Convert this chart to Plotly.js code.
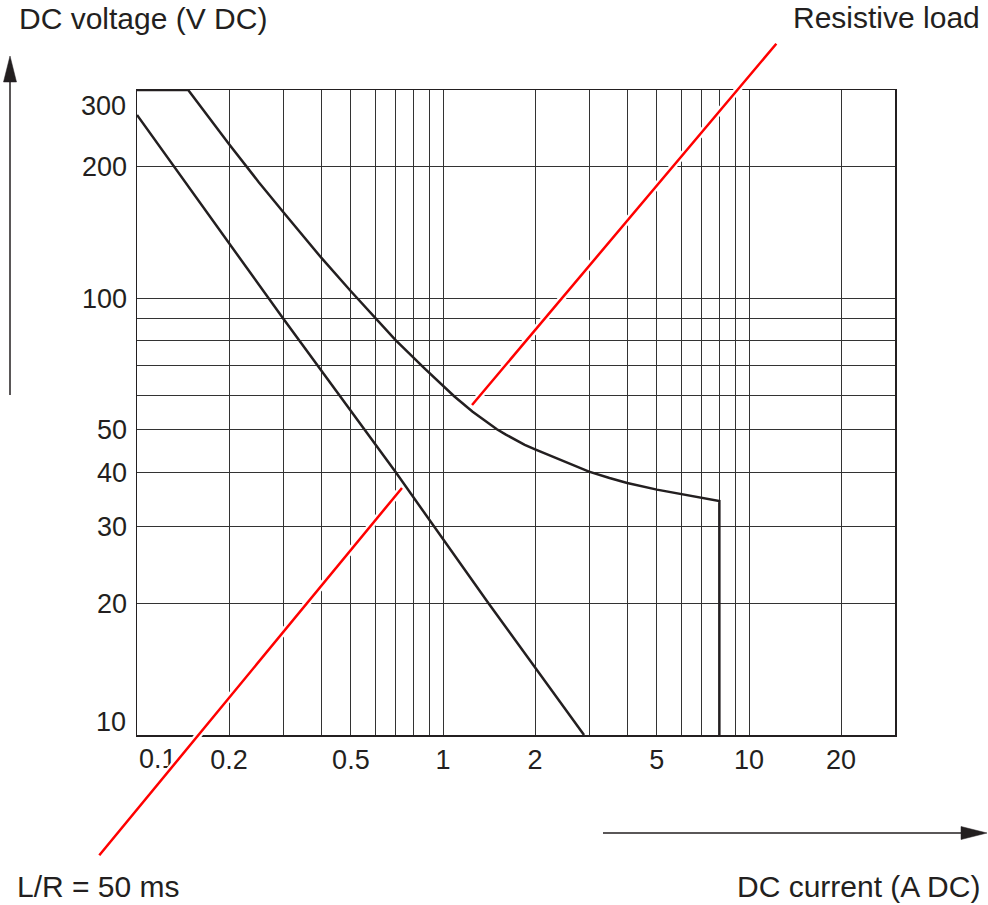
<!DOCTYPE html>
<html>
<head>
<meta charset="utf-8">
<script src="https://cdn.plot.ly/plotly-3.0.1.min.js"></script>
<style>html,body{margin:0;padding:0;background:#fff;}#chart{width:988px;height:905px;}</style>
</head>
<body>
<div id="chart"></div>
<script>
// ---- data ----
const resistiveI = [0.1, 0.147, 0.2, 0.25, 0.3, 0.4, 0.5, 0.6, 0.7, 0.87, 1.09, 1.25, 1.37, 1.5, 1.6, 1.72, 1.85, 2, 2.47, 3, 3.5, 4, 5, 6, 7, 8, 8];
const resistiveV = [300, 300, 225.4, 184.5, 157.9, 123.9, 103.8, 90.0, 80.2, 69.1, 59.6, 55.0, 52.4, 50.15, 48.8, 47.45, 46.2, 45.1, 42.4, 40.1, 38.77, 37.78, 36.47, 35.58, 34.89, 34.35, 10];
const inductiveI = [0.1, 0.2, 0.3, 0.7, 1.41, 2.89];
const inductiveV = [263, 134, 90, 40, 20, 10];

const xGridVals = [0.2,0.3,0.4,0.5,0.6,0.7,0.8,0.9,1,2,3,4,5,6,7,8,9,10,20];
const xLabelVals = [0.2, 0.5, 1, 2, 5, 10, 20];
const xLabelText = ['0.2','0.5','1','2','5','10','20'];
const yGridVals = [20,30,40,50,60,70,80,90,100,200];
const yLabelVals = [20, 30, 40, 50, 100, 200];
const yLabelText = ['20','30','40','50','100','200'];
const xEdgeLabel = {val: 0.1, text: '0.1'};
const yEdgeLabels = [{val: 10, text: '10'}, {val: 300, text: '300'}];

const xRange = [0.1, 30];
const yRange = [10, 300];

// leader lines (data coordinates of the two ends)
const resLeaderI = [1.244, 12.4];
const resLeaderV = [57.0, 386];
const lrLeaderI = [0.7345, 0.0746];
const lrLeaderV = [36.8, 5.26];

const labelResistive = 'Resistive load';
const labelLR = 'L/R = 50 ms';
const labelX = 'DC current (A DC)';
const labelY = 'DC voltage (V DC)';

// ---- layout helpers ----
const W = 988, H = 905;
const M = {l: 137, r: 93, t: 90, b: 170};
const PW = W - M.l - M.r, PH = H - M.t - M.b;
const xp = px => (px - M.l) / PW;
const yp = py => (H - M.b - py) / PH;
const FONT = 'Liberation Sans, Arial, Helvetica, sans-serif';
const INK = '#231f20';
const TICK = 27, TXT = 30;
const L = Math.log10;

const tickTextX = xGridVals.map(v => { const i = xLabelVals.indexOf(v); return i >= 0 ? xLabelText[i] : ''; });
const tickTextY = yGridVals.map(v => { const i = yLabelVals.indexOf(v); return i >= 0 ? yLabelText[i] : ''; });

const traces = [
  {x: inductiveI, y: inductiveV, mode: 'lines', line: {color: INK, width: 2.5}, hoverinfo: 'skip', showlegend: false},
  {x: resistiveI, y: resistiveV, mode: 'lines', line: {color: INK, width: 2.5}, hoverinfo: 'skip', showlegend: false}
];

function leader(xs, ys, color, width) {
  return {x: L(xs[0]), y: L(ys[0]), xref: 'x', yref: 'y', ax: L(xs[1]), ay: L(ys[1]), axref: 'x', ayref: 'y',
          text: '', showarrow: true, arrowhead: 0, arrowwidth: width, arrowcolor: color, standoff: 0, startstandoff: 0};
}

const annotations = [
  {text: xEdgeLabel.text, x: L(xEdgeLabel.val), xref: 'x', xanchor: 'left', y: 0, yref: 'paper', yanchor: 'top', yshift: -7,
   showarrow: false, font: {family: FONT, size: TICK, color: INK}},
  {text: yEdgeLabels[0].text, x: 0, xref: 'paper', xanchor: 'right', xshift: -9, y: L(yEdgeLabels[0].val), yref: 'y', yanchor: 'middle', yshift: 13,
   showarrow: false, font: {family: FONT, size: TICK, color: INK}},
  {text: yEdgeLabels[1].text, x: 0, xref: 'paper', xanchor: 'right', xshift: -9, y: L(yEdgeLabels[1].val), yref: 'y', yanchor: 'middle', yshift: -16,
   showarrow: false, font: {family: FONT, size: TICK, color: INK}},
  leader(resLeaderI, resLeaderV, '#ffffff', 7),
  leader(lrLeaderI, lrLeaderV, '#ffffff', 7),
  leader(resLeaderI, resLeaderV, '#ff0000', 2.5),
  leader(lrLeaderI, lrLeaderV, '#ff0000', 2.5),
  {text: labelResistive, x: xp(982), xref: 'paper', xanchor: 'right', y: yp(18), yref: 'paper', yanchor: 'middle',
   showarrow: false, font: {family: FONT, size: TXT, color: INK}},
  {text: labelLR, x: xp(15), xref: 'paper', xanchor: 'left', y: yp(886), yref: 'paper', yanchor: 'middle',
   showarrow: false, font: {family: FONT, size: TXT, color: INK}},
  {text: labelX, x: xp(982), xref: 'paper', xanchor: 'right', y: yp(887), yref: 'paper', yanchor: 'middle',
   showarrow: false, font: {family: FONT, size: TXT, color: INK}}
];

const shapes = [
  {type: 'line', xref: 'paper', yref: 'paper', x0: xp(10), x1: xp(10), y0: yp(395), y1: yp(78), line: {color: INK, width: 1.5}},
  {type: 'path', xref: 'paper', yref: 'paper', path: `M ${xp(3.5)},${yp(82)} L ${xp(10)},${yp(56)} L ${xp(16.5)},${yp(82)} Z`,
   fillcolor: INK, line: {color: INK, width: 0.5}},
  {type: 'line', xref: 'paper', yref: 'paper', x0: xp(603), x1: xp(965), y0: yp(833), y1: yp(833), line: {color: INK, width: 1.5}},
  {type: 'path', xref: 'paper', yref: 'paper', path: `M ${xp(961)},${yp(826.5)} L ${xp(987)},${yp(833)} L ${xp(961)},${yp(839.5)} Z`,
   fillcolor: INK, line: {color: INK, width: 0.5}}
];

const layout = {
  width: W, height: H,
  margin: M,
  paper_bgcolor: '#ffffff', plot_bgcolor: '#ffffff',
  font: {family: FONT, color: INK},
  title: {text: labelY, x: 19 / W, xref: 'container', xanchor: 'left', y: 1 - 18 / H, yref: 'container', yanchor: 'middle',
          font: {family: FONT, size: TXT, color: INK}},
  xaxis: {type: 'log', range: xRange.map(L), tickmode: 'array', tickvals: xGridVals, ticktext: tickTextX,
          showgrid: true, gridcolor: '#333333', gridwidth: 1, ticks: '', showline: true, linecolor: INK, linewidth: 1.5, mirror: true,
          tickfont: {family: FONT, size: TICK, color: INK}, fixedrange: true},
  yaxis: {type: 'log', range: yRange.map(L), tickmode: 'array', tickvals: yGridVals, ticktext: tickTextY,
          showgrid: true, gridcolor: '#333333', gridwidth: 1, ticks: '', showline: true, linecolor: INK, linewidth: 1.5, mirror: true,
          ticklabelstandoff: 3,
          tickfont: {family: FONT, size: TICK, color: INK}, fixedrange: true},
  annotations: annotations,
  shapes: shapes,
  showlegend: false
};

Plotly.newPlot('chart', traces, layout, {staticPlot: true, displayModeBar: false});
</script>
</body>
</html>
